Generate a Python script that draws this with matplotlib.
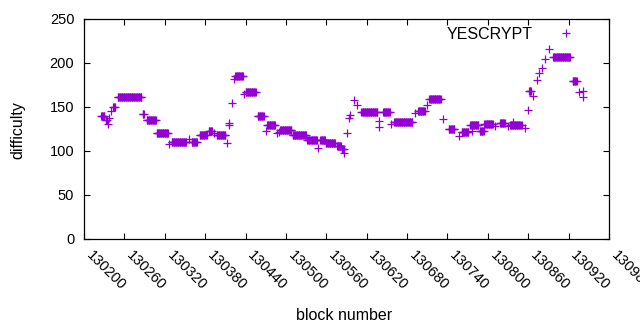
import numpy as np
import matplotlib
matplotlib.use("Agg")
import matplotlib.pyplot as plt
import matplotlib.transforms as mtransforms

plt.rcParams['font.family'] = ['Liberation Sans', 'DejaVu Sans']

# runs of equal difficulty: first block, last block, difficulty
run_start = [130225, 130232, 130235, 130237, 130240, 130243, 130250, 130287, 130293, 130308,
             130327, 130330, 130356, 130360, 130372, 130385, 130393, 130397, 130412, 130415,
             130416, 130420, 130423, 130425, 130438, 130440, 130458, 130470, 130472, 130487,
             130490, 130491, 130510, 130532, 130548, 130551, 130559, 130576, 130583, 130587,
             130591, 130593, 130595, 130601, 130606, 130612, 130638, 130639, 130644, 130656,
             130661, 130692, 130696, 130709, 130713, 130734, 130742, 130757, 130761, 130774,
             130776, 130788, 130795, 130811, 130818, 130830, 130833, 130837, 130855, 130859,
             130861, 130867, 130873, 130876, 130880, 130885, 130891, 130897, 130926, 130935,
             130941, 130941]
run_end = [130230, 130234, 130235, 130237, 130240, 130246, 130285, 130289, 130307, 130325,
           130327, 130352, 130356, 130368, 130382, 130390, 130393, 130410, 130412, 130415,
           130416, 130420, 130423, 130436, 130438, 130455, 130467, 130470, 130484, 130487,
           130490, 130508, 130530, 130546, 130548, 130558, 130573, 130582, 130586, 130587,
           130591, 130593, 130595, 130601, 130606, 130636, 130638, 130639, 130654, 130656,
           130688, 130692, 130706, 130709, 130730, 130734, 130750, 130757, 130771, 130786,
           130776, 130794, 130807, 130811, 130825, 130830, 130850, 130837, 130855, 130859,
           130864, 130867, 130873, 130876, 130880, 130885, 130891, 130922, 130932, 130935,
           130941, 130941]
run_diff = [140, 135, 131, 137, 145, 150, 161, 142, 135, 120,
            108, 110, 114, 110, 118, 123, 120, 118, 109, 130,
            132, 154, 182, 185, 165, 167, 140, 123, 130, 120,
            122, 124, 118, 112, 103, 112, 109, 106, 102, 98,
            120, 137, 141, 158, 152, 144, 127, 134, 144, 131,
            133, 143, 146, 152, 159, 136, 125, 117, 122, 130,
            123, 123, 131, 128, 132, 128, 130, 133, 126, 147,
            168, 163, 181, 189, 194, 205, 216, 207, 179, 167,
            168, 161]

x_ticks = list(range(130200, 130981, 60))

blocks = []
diffs = []
for s, e, d in zip(run_start, run_end, run_diff):
    for b in range(s, e + 1):
        blocks.append(b)
        diffs.append(d)

fig = plt.figure(figsize=(6.4, 3.3), dpi=100)
ax = fig.add_axes([84 / 640, 1 - 239 / 330, 525 / 640, 220 / 330])

ax.plot(blocks, diffs, linestyle='none', marker='+', color='#9400D3',
        markersize=5.5, markeredgewidth=0.9, label='YESCRYPT')

ax.set_xlim(130200, 130980)
ax.set_ylim(0, 250)
ax.set_xticks(x_ticks)
ax.set_yticks(range(0, 251, 50))
ax.set_xticklabels([str(t) for t in x_ticks], rotation=-45, ha='left', va='center',
                   rotation_mode='anchor')
ax.tick_params(direction='in', length=4, width=0.8, top=True, right=True,
               labelsize=10.5, colors='black')
ax.tick_params(axis='x', pad=10.5)
ax.tick_params(axis='y', pad=7)
shift = mtransforms.ScaledTranslation(4.5 / 100, 0, fig.dpi_scale_trans)
for lab in ax.get_xticklabels():
    lab.set_transform(lab.get_transform() + shift)
for sp in ax.spines.values():
    sp.set_linewidth(0.9)

ax.set_xlabel('block number', fontsize=11.5)
ax.set_ylabel('difficulty', fontsize=11.5)
ax.xaxis.set_label_coords(0.495, -0.315)
ax.yaxis.set_label_coords(-0.112, 0.495)

ax.legend(loc='upper right', markerfirst=False, frameon=False, fontsize=11.5,
          bbox_to_anchor=(0.963, 1.03), handlelength=1.2, handletextpad=1.45)

fig.savefig('out.png', dpi=100)
